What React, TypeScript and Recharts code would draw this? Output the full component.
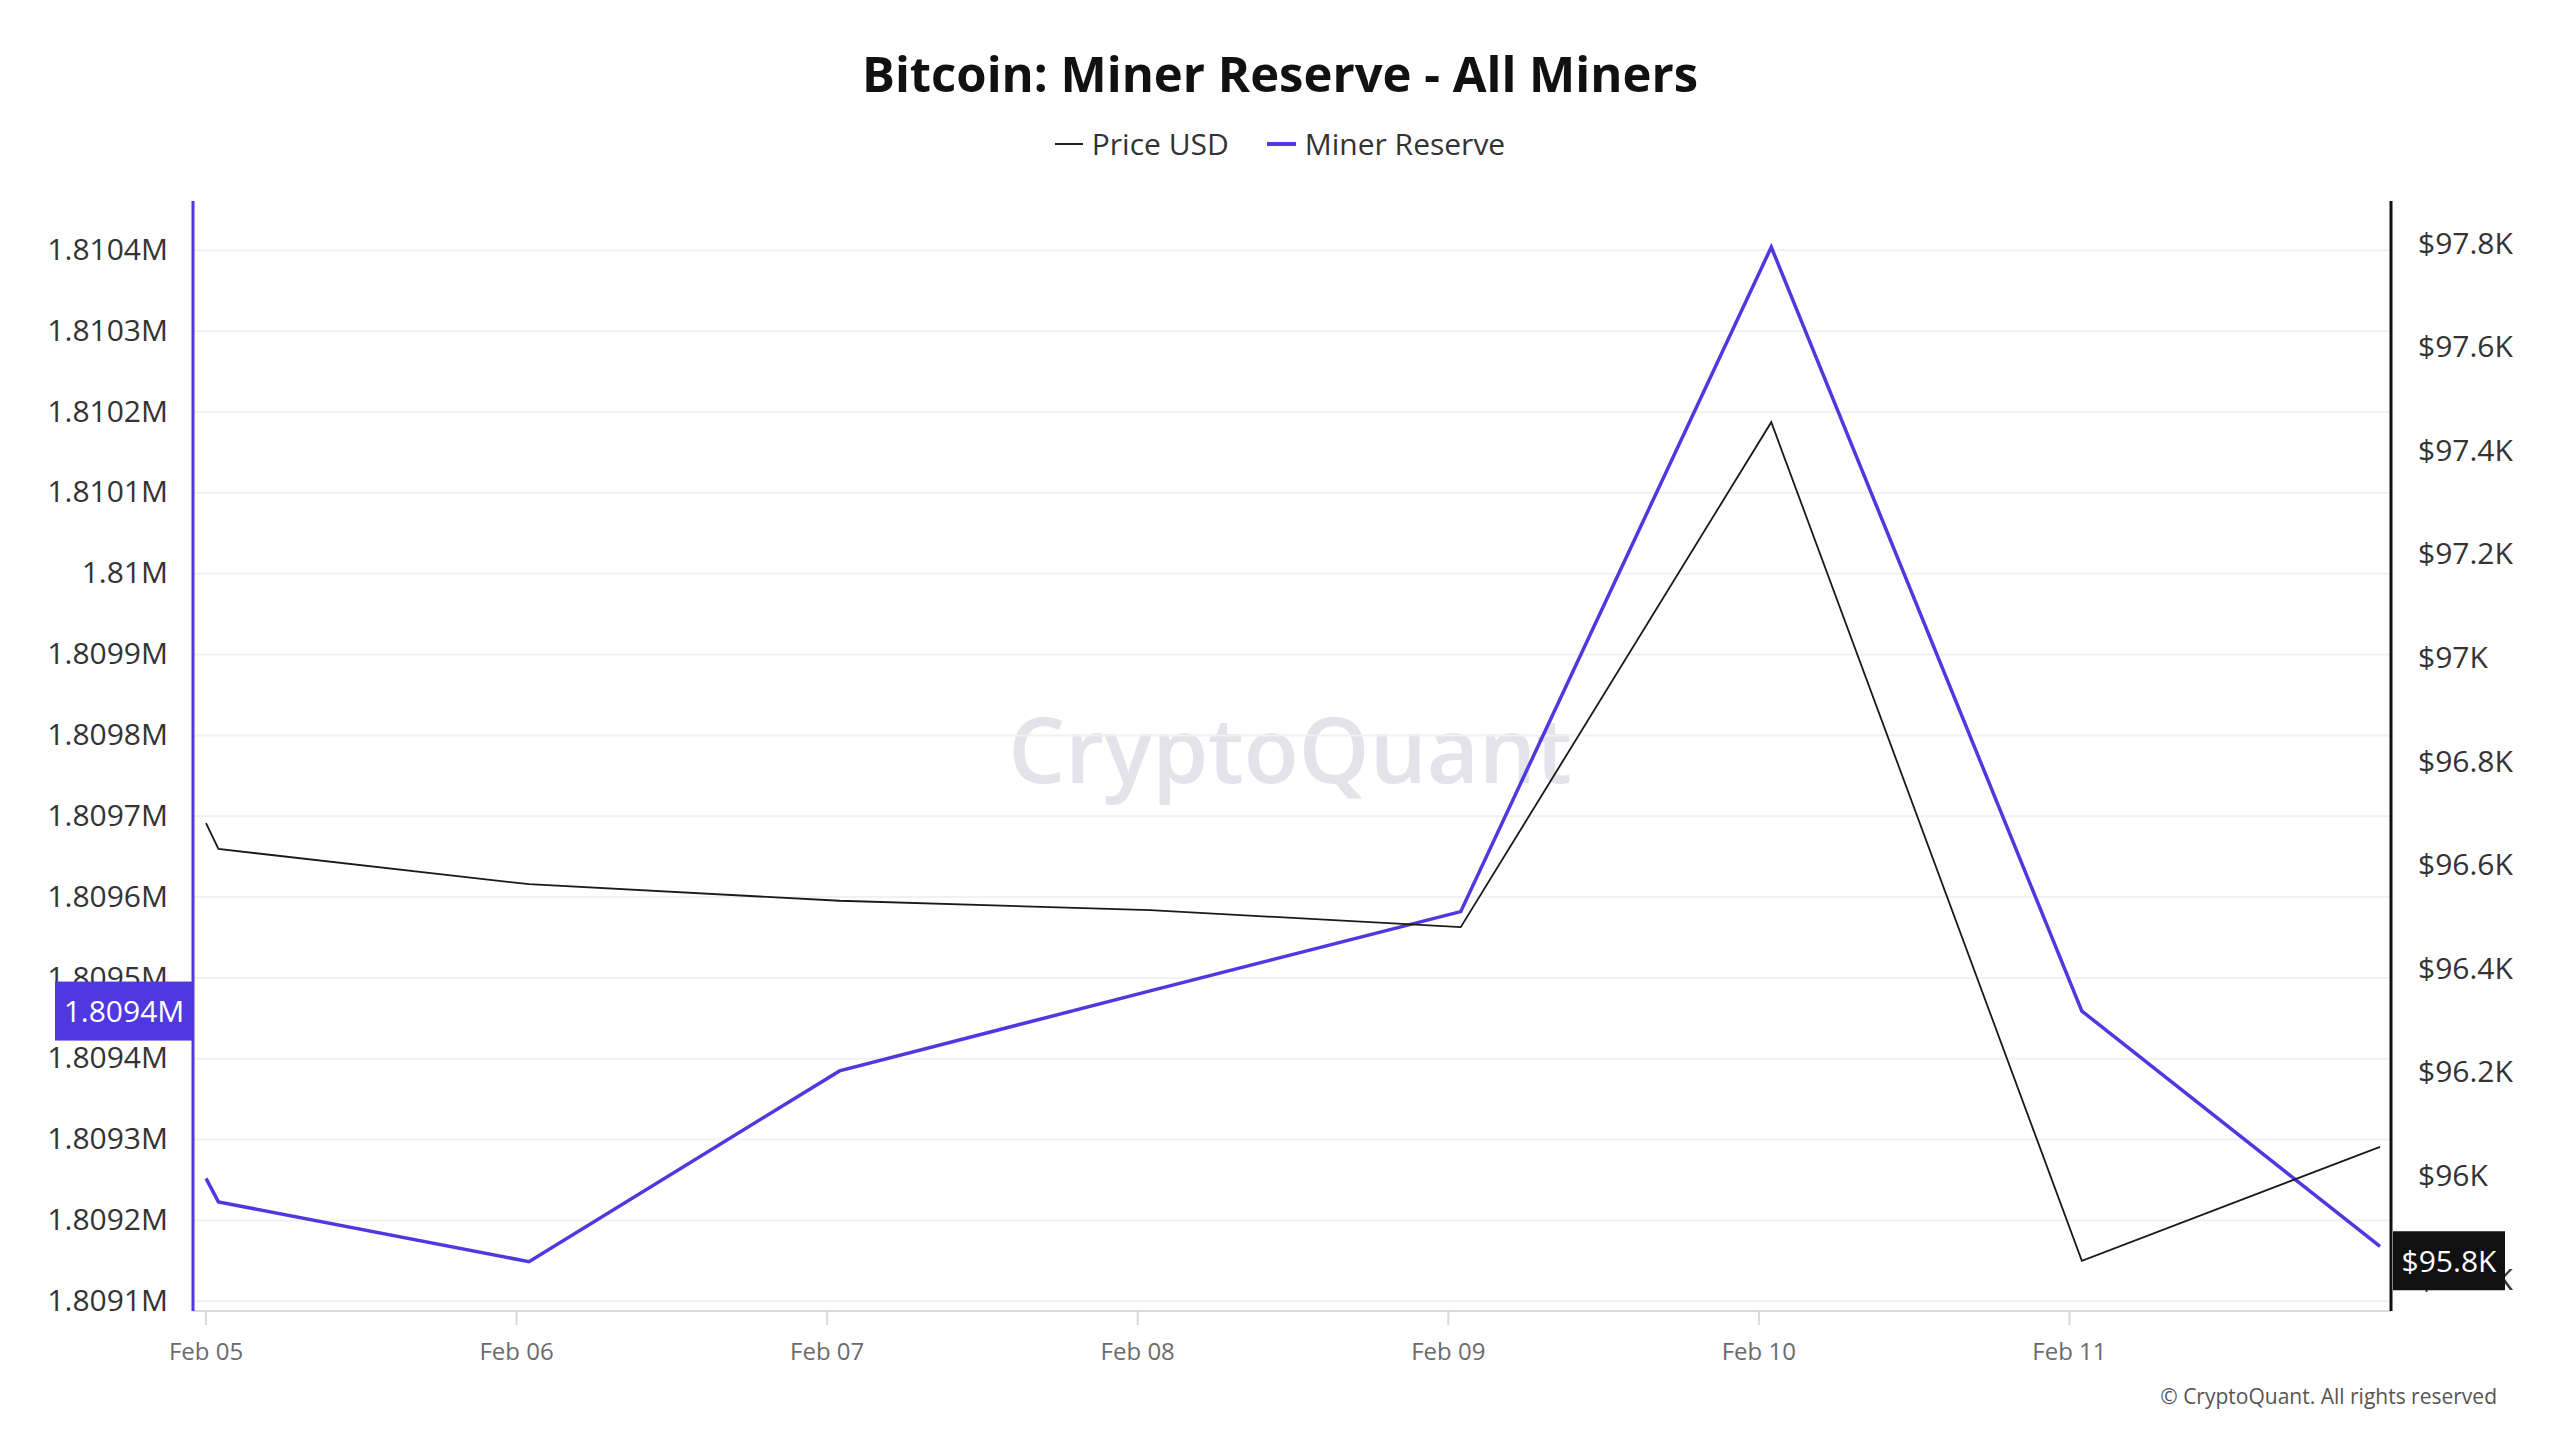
import React from "react";
import {
  LineChart,
  Line,
  XAxis,
  YAxis,
  CartesianGrid,
} from "recharts";

// days since Feb 05 00:00 for each sample
const dayOffsets = [0, 0.04, 1.04, 2.04, 3.04, 4.04, 5.04, 6.04, 7.0];
const priceUsd = [96682, 96632, 96564, 96532, 96514, 96481, 97456, 95837, 96057];
const minerReserve = [
  1809252, 1809223, 1809149, 1809385, 1809484, 1809582, 1810404, 1809459, 1809168,
];

const xTickDays = [0, 1, 2, 3, 4, 5, 6];
const xTickLabels = ["Feb 05", "Feb 06", "Feb 07", "Feb 08", "Feb 09", "Feb 10", "Feb 11"];
const reserveTicks = [
  1809100, 1809200, 1809300, 1809400, 1809500, 1809600, 1809700, 1809800, 1809900,
  1810000, 1810100, 1810200, 1810300, 1810400,
];
const priceTicks = [95800, 96000, 96200, 96400, 96600, 96800, 97000, 97200, 97400, 97600, 97800];

const PURPLE = "#4f38e0";
const FONT = "'Open Sans', 'Noto Sans', sans-serif";

// the highlighted values on each axis (last full day)
const reserveMark = minerReserve[7];
const priceMark = priceUsd[7];

const data = dayOffsets.map((t, i) => ({
  t,
  price: priceUsd[i],
  reserve: minerReserve[i],
}));

const fmtReserve = (v: number) => `${parseFloat((v / 1e6).toFixed(4))}M`;
const fmtPrice = (v: number) => `$${parseFloat((v / 1000).toFixed(1))}K`;

const LeftTick = (props: any) => {
  const { x, y, payload } = props;
  if (payload.value === reserveMark) {
    return (
      <g>
        <rect x={x - 113} y={y - 29.5} width={138} height={59} fill={PURPLE} />
        <text x={x - 44} y={y} dy="0.36em" textAnchor="middle" fill="#fff" fontSize={30} fontFamily={FONT}>
          {`${Math.floor(payload.value / 100) / 1e4}M`}
        </text>
      </g>
    );
  }
  return (
    <text x={x} y={y} dy="0.32em" textAnchor="end" fill="#333" fontSize={30} fontFamily={FONT}>
      {fmtReserve(payload.value)}
    </text>
  );
};

const RightTick = (props: any) => {
  const { x, y, payload } = props;
  if (payload.value === priceMark) {
    return (
      <g>
        <rect x={x - 25} y={y - 29.5} width={112} height={59} fill="#111" />
        <text x={x + 31} y={y} dy="0.36em" textAnchor="middle" fill="#fff" fontSize={30} fontFamily={FONT}>
          {fmtPrice(payload.value)}
        </text>
      </g>
    );
  }
  return (
    <text x={x} y={y} dy="0.32em" textAnchor="start" fill="#333" fontSize={30} fontFamily={FONT}>
      {fmtPrice(payload.value)}
    </text>
  );
};

export default function App() {
  return (
    <div
      style={{
        position: "absolute",
        top: 0,
        left: 0,
        width: 2560,
        height: 1440,
        background: "#fff",
        fontFamily: FONT,
        overflow: "hidden",
      }}
    >
      <div
        style={{
          position: "absolute",
          top: 40,
          left: 0,
          width: 2560,
          textAlign: "center",
          fontSize: 49,
          fontWeight: 700,
          color: "#111",
          lineHeight: "66px",
        }}
      >
        Bitcoin: Miner Reserve - All Miners
      </div>

      <div
        style={{
          position: "absolute",
          top: 122,
          left: 0,
          width: 2560,
          display: "flex",
          justifyContent: "center",
          alignItems: "center",
          fontSize: 30,
          color: "#333",
          lineHeight: "44px",
        }}
      >
        <span style={{ display: "inline-block", width: 28, height: 2, background: "#222", marginRight: 9 }} />
        <span style={{ marginRight: 38 }}>Price USD</span>
        <span style={{ display: "inline-block", width: 29, height: 4, background: PURPLE, marginRight: 9 }} />
        <span>Miner Reserve</span>
      </div>

      <div
        style={{
          position: "absolute",
          top: 692,
          left: 0,
          width: 2560,
          textAlign: "center",
          fontSize: 90,
          fontWeight: 600,
          color: "#e3e3e9",
          lineHeight: "112px",
          paddingLeft: 20,
          boxSizing: "border-box",
        }}
      >
        CryptoQuant
      </div>

      <div style={{ position: "absolute", top: 0, left: 0 }}>
        <LineChart
          width={2560}
          height={1440}
          data={data}
          margin={{ top: 201, right: 19, bottom: 69, left: 43 }}
          style={{ fontFamily: FONT }}
        >
          <CartesianGrid
            yAxisId="left"
            vertical={false}
            horizontalValues={reserveTicks}
            stroke="#f1f1f3"
            strokeWidth={2}
          />
          <XAxis
            dataKey="t"
            type="number"
            domain={[0, 7]}
            ticks={xTickDays}
            interval={0}
            tickFormatter={(t: number) => xTickLabels[Math.round(t)]}
            padding={{ left: 13, right: 11 }}
            height={60}
            axisLine={{ stroke: "#d9d9de", strokeWidth: 2 }}
            tickLine={{ stroke: "#d9d9de", strokeWidth: 2 }}
            tickSize={14}
            tickMargin={18}
            tick={{ fill: "#6b6b6b", fontSize: 24, fontFamily: FONT }}
          />
          <YAxis
            yAxisId="left"
            orientation="left"
            width={150}
            domain={[1809088, 1810461]}
            allowDataOverflow
            ticks={[...reserveTicks, reserveMark]}
            interval={0}
            axisLine={{ stroke: PURPLE, strokeWidth: 3 }}
            tickLine={false}
            tickSize={0}
            tickMargin={25}
            tick={<LeftTick />}
          />
          <YAxis
            yAxisId="right"
            orientation="right"
            width={150}
            domain={[95740, 97883]}
            allowDataOverflow
            ticks={[...priceTicks, priceMark]}
            interval={0}
            axisLine={{ stroke: "#111", strokeWidth: 3 }}
            tickLine={false}
            tickSize={0}
            tickMargin={27}
            tick={<RightTick />}
          />
          <Line
            yAxisId="left"
            type="linear"
            dataKey="reserve"
            name="Miner Reserve"
            stroke={PURPLE}
            strokeWidth={3.5}
            dot={false}
            isAnimationActive={false}
          />
          <Line
            yAxisId="right"
            type="linear"
            dataKey="price"
            name="Price USD"
            stroke="#1a1a1a"
            strokeWidth={1.8}
            dot={false}
            isAnimationActive={false}
          />
        </LineChart>
      </div>

      <div
        style={{
          position: "absolute",
          top: 1382,
          right: 63,
          fontSize: 21,
          color: "#555",
          lineHeight: "28px",
        }}
      >
        © CryptoQuant. All rights reserved
      </div>
    </div>
  );
}
